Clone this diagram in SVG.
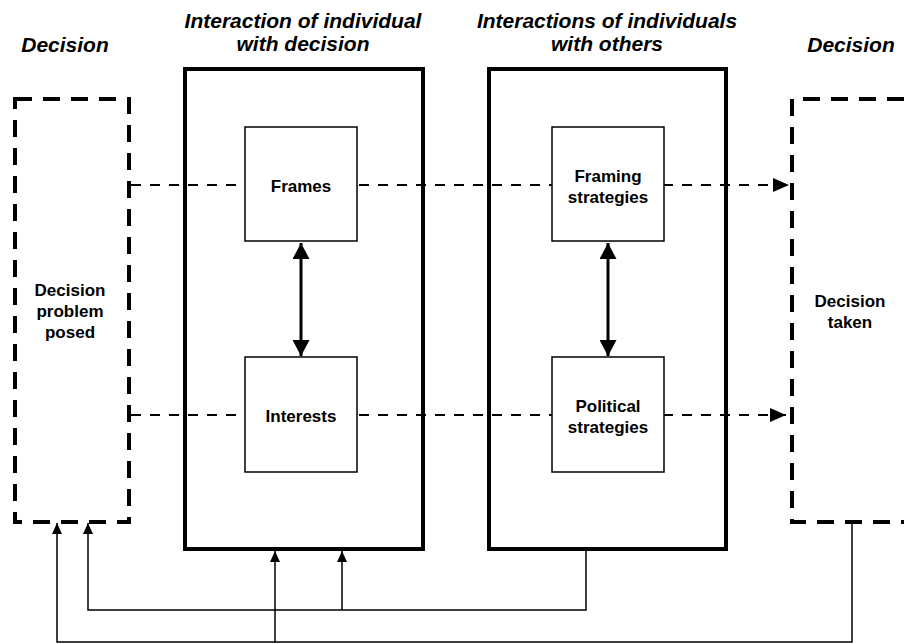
<svg xmlns="http://www.w3.org/2000/svg" width="904" height="644" viewBox="0 0 904 644">
  <style>
    .title { font-family: "Liberation Sans", Arial, sans-serif; font-size: 21px; font-weight: bold; font-style: italic; fill: #000; text-anchor: middle; }
    .label { font-family: "Liberation Sans", Arial, sans-serif; font-size: 17px; font-weight: bold; fill: #000; text-anchor: middle; }
    .stage { fill: none; stroke: #000; stroke-width: 4; stroke-dasharray: 17 11; }
    .frame { fill: #fff; stroke: #000; stroke-width: 4; }
    .item { fill: #fff; stroke: #000; stroke-width: 1.5; }
    .flow { fill: none; stroke: #000; stroke-width: 2; stroke-dasharray: 10 9; }
    .link { fill: none; stroke: #000; stroke-width: 3; }
    .feedback { fill: none; stroke: #000; stroke-width: 1.5; }
  </style>
  <defs>
    <marker id="headFlow" viewBox="0 0 16 14" refX="16" refY="7" markerWidth="16" markerHeight="14" markerUnits="userSpaceOnUse" orient="auto">
      <path d="M0,0 L16,7 L0,14 Z" fill="#000"/>
    </marker>
    <marker id="headLink" viewBox="0 0 16 17" refX="16" refY="8.5" markerWidth="16" markerHeight="17" markerUnits="userSpaceOnUse" orient="auto-start-reverse">
      <path d="M0,0 L16,8.5 L0,17 Z" fill="#000"/>
    </marker>
    <marker id="headSmall" viewBox="0 0 11 10" refX="11" refY="5" markerWidth="11" markerHeight="10" markerUnits="userSpaceOnUse" orient="auto">
      <path d="M0,0 L11,5 L0,10 Z" fill="#000"/>
    </marker>
  </defs>

  <!-- column headings -->
  <g id="headings">
    <text class="title" x="65" y="52">Decision</text>
    <text class="title" x="303" y="28">Interaction of individual</text>
    <text class="title" x="303" y="51">with decision</text>
    <text class="title" x="607" y="28">Interactions of individuals</text>
    <text class="title" x="607" y="51">with others</text>
    <text class="title" x="851" y="52">Decision</text>
  </g>

  <!-- outer frames -->
  <g id="frame-individual-decision">
    <rect class="frame" x="185" y="69" width="238" height="480"/>
  </g>
  <g id="frame-individual-others">
    <rect class="frame" x="489" y="69" width="237" height="480"/>
  </g>

  <!-- decision stages -->
  <g id="decision-posed">
    <rect class="stage" x="15" y="99" width="114" height="423"/>
    <text class="label" x="70" y="296">Decision</text>
    <text class="label" x="70" y="317">problem</text>
    <text class="label" x="70" y="338">posed</text>
  </g>
  <g id="decision-taken">
    <path class="stage" d="M904,99 H792 V522 H904"/>
    <text class="label" x="850" y="307">Decision</text>
    <text class="label" x="850" y="328">taken</text>
  </g>

  <!-- connectors -->
  <g id="connectors">
    <path class="flow" d="M131,185 H789" marker-end="url(#headFlow)"/>
    <path class="flow" d="M131,415 H786" marker-end="url(#headFlow)"/>
    <path class="link" d="M301,243 V356" marker-start="url(#headLink)" marker-end="url(#headLink)"/>
    <path class="link" d="M608,243 V356" marker-start="url(#headLink)" marker-end="url(#headLink)"/>
    <path class="feedback" d="M852,522 V642 H57 V523" marker-end="url(#headSmall)"/>
    <path class="feedback" d="M586,549 V610 H88 V523" marker-end="url(#headSmall)"/>
    <path class="feedback" d="M275,643 V551" marker-end="url(#headSmall)"/>
    <path class="feedback" d="M342,610 V551" marker-end="url(#headSmall)"/>
  </g>

  <!-- inner items -->
  <g id="frames">
    <rect class="item" x="245" y="127" width="112" height="114"/>
    <text class="label" x="301" y="192">Frames</text>
  </g>
  <g id="interests">
    <rect class="item" x="245" y="357" width="112" height="115"/>
    <text class="label" x="301" y="422">Interests</text>
  </g>
  <g id="framing-strategies">
    <rect class="item" x="552" y="127" width="112" height="114"/>
    <text class="label" x="608" y="182">Framing</text>
    <text class="label" x="608" y="203">strategies</text>
  </g>
  <g id="political-strategies">
    <rect class="item" x="552" y="357" width="112" height="115"/>
    <text class="label" x="608" y="412">Political</text>
    <text class="label" x="608" y="433">strategies</text>
  </g>
</svg>
